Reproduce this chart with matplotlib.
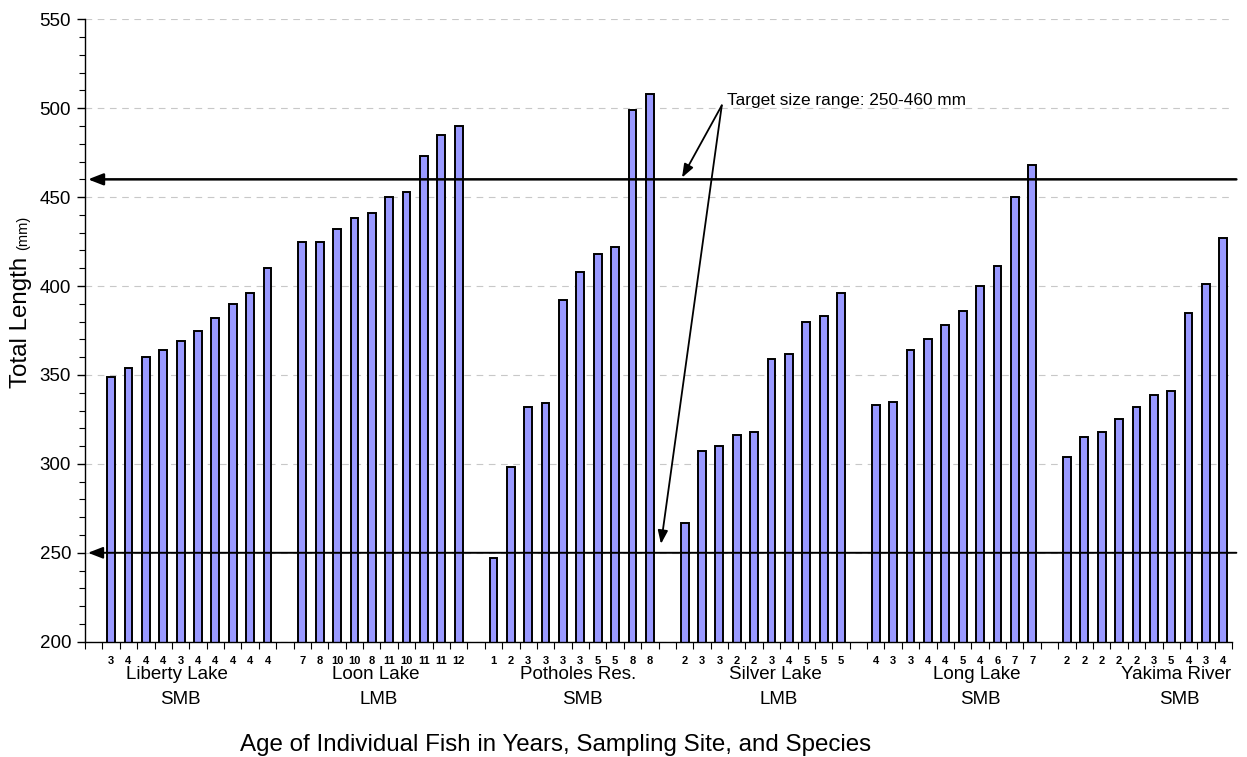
"""Bar chart of total length of individual fish by age, site and species."""
import matplotlib.pyplot as plt
from matplotlib.ticker import FixedLocator, MultipleLocator

plt.rcParams["font.family"] = ["Liberation Sans", "DejaVu Sans"]

# Sites and species, one per group of ten fish.
sites = ["Liberty Lake", "Loon Lake", "Potholes Res.", "Silver Lake", "Long Lake", "Yakima River"]
species = ["SMB", "LMB", "SMB", "LMB", "SMB", "SMB"]

# Age (years) of each fish, per site.
ages = [
    [3, 4, 4, 4, 3, 4, 4, 4, 4, 4],
    [7, 8, 10, 10, 8, 11, 10, 11, 11, 12],
    [1, 2, 3, 3, 3, 3, 5, 5, 8, 8],
    [2, 3, 3, 2, 2, 3, 4, 5, 5, 5],
    [4, 3, 3, 4, 4, 5, 4, 6, 7, 7],
    [2, 2, 2, 2, 2, 3, 5, 4, 3, 4],
]

# Total length (mm) of each fish, per site.
lengths = [
    [349, 354, 360, 364, 369, 375, 382, 390, 396, 410],
    [425, 425, 432, 438, 441, 450, 453, 473, 485, 490],
    [247, 298, 332, 334, 392, 408, 418, 422, 499, 508],
    [267, 307, 310, 316, 318, 359, 362, 380, 383, 396],
    [333, 335, 364, 370, 378, 386, 400, 411, 450, 468],
    [304, 315, 318, 325, 332, 339, 341, 385, 401, 427],
]

# Target size range (mm).
target_low = 250
target_high = 460
target_text = "Target size range: 250-460 mm"

# Hand placed shift of the site labels relative to group centre (in bar slots).
label_shift = [-0.7, -0.3, 0.4, 0.7, 1.3, 1.8]


def plot_lengths():
    fig = plt.figure(figsize=(12.47, 7.57), dpi=100)
    ax = fig.add_axes([0.0682, 0.1523, 0.9198, 0.8222])

    # One empty slot before every group of ten bars.
    xs, ys, labels = [], [], []
    centres = []
    for g, (grp_ages, grp_len) in enumerate(zip(ages, lengths)):
        start = 1 + g * (len(grp_len) + 1)
        for i, (a, v) in enumerate(zip(grp_ages, grp_len)):
            xs.append(start + i + 0.5)
            ys.append(v)
            labels.append(str(a))
        centres.append(start + len(grp_len) / 2)
    n_slots = len(sites) * 11

    ax.bar(xs, ys, width=0.45, color="#9999ff", edgecolor="black", linewidth=1.4, zorder=2)

    # Axis formatting.
    ax.set_xlim(0, n_slots)
    ax.set_ylim(200, 550)
    ax.yaxis.set_major_locator(MultipleLocator(50))
    ax.yaxis.set_minor_locator(MultipleLocator(10))
    ax.tick_params(axis="y", which="major", direction="out", length=6, width=1,
                   labelsize=13.5, pad=4)
    ax.tick_params(axis="y", which="minor", direction="out", length=4, width=0.8)
    ax.xaxis.set_major_locator(FixedLocator(range(n_slots + 1)))
    ax.xaxis.set_minor_locator(FixedLocator(xs))
    ax.set_xticklabels([], minor=False)
    ax.set_xticklabels(labels, minor=True, fontsize=8, fontweight="bold")
    ax.tick_params(axis="x", which="major", direction="out", length=5, width=0.8)
    ax.tick_params(axis="x", which="minor", length=0, pad=10)
    ax.grid(axis="y", which="major", color="#c8c8c8", linestyle=(0, (6, 5)), linewidth=0.8)
    ax.set_axisbelow(True)
    for side in ["top", "right"]:
        ax.spines[side].set_visible(False)
    ax.spines["left"].set_linewidth(1)
    ax.spines["bottom"].set_linewidth(1)

    # Site and species labels under each group.
    for c, s, sp, sh in zip(centres, sites, species, label_shift):
        ax.text(c + sh, 181.3, s, ha="center", va="center", fontsize=13.5, clip_on=False)
        ax.text(c + sh + 0.2, 167.7, sp, ha="center", va="center", fontsize=13.5, clip_on=False)

    # Target size lines with arrow heads at the left end.
    for level, lw in [(target_high, 1.8), (target_low, 1.4)]:
        ax.annotate("", xy=(0.17, level), xytext=(n_slots + 0.25, level),
                    arrowprops=dict(arrowstyle="-|>,head_length=0.9,head_width=0.35",
                                    color="black", lw=lw, shrinkA=0, shrinkB=0),
                    annotation_clip=False, zorder=3)

    # Callout text and its two arrows.
    apex = (36.64, 501.6)
    ax.text(36.95, 502, target_text, ha="left", va="baseline", fontsize=12.4)
    for tip in [(34.35, target_high + 1), (33.14, target_low + 5)]:
        ax.annotate("", xy=tip, xytext=apex,
                    arrowprops=dict(arrowstyle="-|>,head_length=0.8,head_width=0.3",
                                    color="black", lw=1.3, shrinkA=0, shrinkB=0),
                    zorder=4)

    # Axis titles.
    fig.text(0.4455, 0.016, "Age of Individual Fish in Years, Sampling Site, and Species",
             ha="center", va="center", fontsize=17.4)
    fig.text(27.5 / 1247, 1 - 388 / 757, "Total Length", rotation=90,
             rotation_mode="anchor", ha="left", va="baseline", fontsize=17.4)
    fig.text(27.5 / 1247, 1 - 250 / 757, "(mm)", rotation=90,
             rotation_mode="anchor", ha="left", va="baseline", fontsize=10.5)

    fig.savefig("out.png", dpi=100)


if __name__ == "__main__":

    plot_lengths()
